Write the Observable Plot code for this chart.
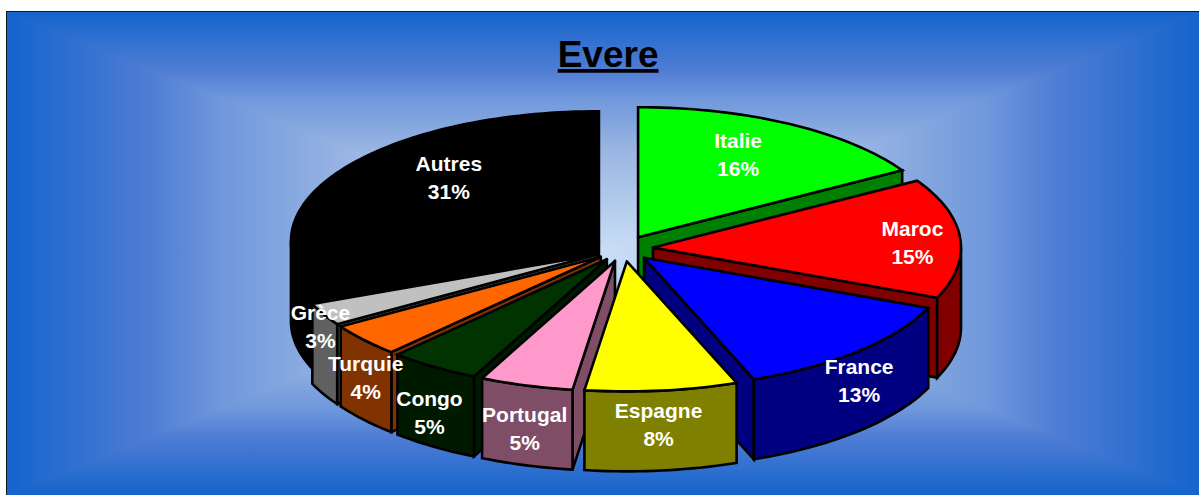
<!DOCTYPE html>
<html>
<head>
<meta charset="utf-8">
<script src="https://cdn.jsdelivr.net/npm/d3@7"></script>
<script src="https://cdn.jsdelivr.net/npm/@observablehq/plot@0.6"></script>
<style>
html,body{margin:0;padding:0;background:#fff}
#stage{position:relative;width:1199px;height:495px;overflow:hidden}
.bg{position:absolute;left:7px;top:12px;width:1192px;height:483px}
#frame{position:absolute;left:6px;top:11px;width:1200px;height:500px;border:1.5px solid #101820;box-sizing:border-box}
#chart{position:absolute;left:0;top:0}
</style>
</head>
<body>
<div id="stage">
  <div class="bg" id="v"></div><div class="bg" id="l"></div><div class="bg" id="r"></div>
  <div id="frame"></div>
  <div id="chart"></div>
</div>
<script>
// Data
const chartTitle = "Evere";
const categories = ["Italie","Maroc","France","Espagne","Portugal","Congo","Turquie","Grèce","Autres"];
const shares     = [16.4,14.9,12.9,8,4.9,4.8,4.1,2.8,31.2];
const topColors  = ["#00ff00","#ff0000","#0000ff","#ffff00","#ff99cc","#003300","#ff6600","#c0c0c0","#000000"];
const sideColors = ["#008000","#800000","#000080","#808000","#804d66","#001a00","#803300","#606060","#000000"];
// Hand-placed label anchors, in pie units (rim radius = 1)
const labelX = [0.372,0.938,0.765,0.114,-0.321,-0.63,-0.837,-0.984,-0.567];
const labelY = [0.735,0.058,-1.005,-1.342,-1.372,-1.252,-0.983,-0.588,0.558];
const titleY = 1.487;
const titleX = -0.05;

// Pie geometry in pie units
const explode = {x:0.096, y:0.1};
const depth = 0.615;
const drawOrder = [8,7,6,5,4,0,1,2,3];

const rad = d => d*Math.PI/180;
const starts = d3.cumsum([0,...shares]);
const slices = categories.map((name,i)=>{
  const a0 = starts[i]*3.6, a1 = starts[i+1]*3.6, m = rad((a0+a1)/2);
  return {name,i,a0,a1,ax:explode.x*Math.sin(m),ay:explode.y*Math.cos(m)};
});
const rim = (s,a)=>({x:s.ax+Math.sin(rad(a)),y:s.ay+Math.cos(rad(a))});
const arc = (s,from,to)=>{
  const n = Math.max(2,Math.ceil((to-from)/1.5));
  return d3.range(n+1).map(k=>rim(s,from+(to-from)*k/n));
};
const rows = [];
let id = 0;
const addPoly = (pts,fill)=>{
  id++;
  [...pts,pts[0]].forEach(p=>rows.push({x:p.x,y:p.y,id,fill}));
};
const drop = p=>({x:p.x,y:p.y-depth});
for(const i of drawOrder){
  const s = slices[i], apex = {x:s.ax,y:s.ay};
  const side = sideColors[i];
  const face = a=>{const p=rim(s,a);addPoly([apex,p,drop(p),drop(apex)],side);};
  if(Math.sin(rad(s.a0))<-1e-6) face(s.a0);
  if(Math.sin(rad(s.a1))>1e-6) face(s.a1);
  const w0=Math.max(s.a0,90), w1=Math.min(s.a1,270);
  if(w1>w0){
    const top=arc(s,w0,w1);
    addPoly([...top,...top.slice().reverse().map(drop)],side);
  }
  addPoly([apex,...arc(s,s.a0,s.a1)],topColors[i]);
}

const labels = categories.map((name,i)=>({text:`${name}\n${Math.round(shares[i])}%`,x:labelX[i],y:labelY[i]}));

const W=1199,H=495,cx=623,cy=248,Rx=308,Ry=130;
const plot = Plot.plot({
  width:W,height:H,margin:0,
  style:{background:"transparent"},
  x:{axis:null,domain:[-cx/Rx,(W-cx)/Rx],range:[0,W]},
  y:{axis:null,domain:[(cy-H)/Ry,cy/Ry],range:[H,0]},
  color:{type:"identity"},
  marks:[
    Plot.line(rows,{x:"x",y:"y",z:"id",fill:"fill",stroke:"#000",strokeWidth:2.6,curve:"linear",strokeLinejoin:"miter",strokeMiterlimit:6}),
    Plot.text(labels,{x:"x",y:"y",text:"text",fill:"#fff",fontFamily:"Liberation Sans, Arial, sans-serif",fontWeight:"bold",fontSize:21,lineHeight:1.333}),
    Plot.text([chartTitle],{x:[titleX],y:[titleY],text:d=>d,fill:"#000",fontFamily:"Liberation Sans, Arial, sans-serif",fontWeight:"bold",fontSize:37})
  ]
});
document.getElementById("chart").appendChild(plot);
plot.querySelectorAll("text").forEach(t=>{ if(t.textContent===chartTitle) t.style.textDecoration="underline"; });

// Rectangular gradient background
const stopList = [["#1464cc",0],["#4f7dd4",24],["#7098dc",36],["#9bb6e3",58],["#c9def5",100]];
const px=598,py=241; // centre inside .bg box
const fwd = h => stopList.map(([c,p])=>`${c} ${p*h/100}px`).join(",");
const back = (h,total) => stopList.slice().reverse().map(([c,p])=>`${c} ${total-p*h/100}px`).join(",");
document.getElementById("v").style.background=`linear-gradient(to bottom,${fwd(py)},${back(483-py,483)})`;
const hGrad=`linear-gradient(to right,${fwd(px)},${back(1192-px,1192)})`;
const T=`${px}px ${py}px`;
for(const [k,poly] of [["l",`0 0,0 483px,${T}`],["r",`1192px 0,1192px 483px,${T}`]]){
  const e=document.getElementById(k);
  e.style.background=hGrad;
  e.style.clipPath=`polygon(${poly})`;
}
</script>
</body>
</html>
